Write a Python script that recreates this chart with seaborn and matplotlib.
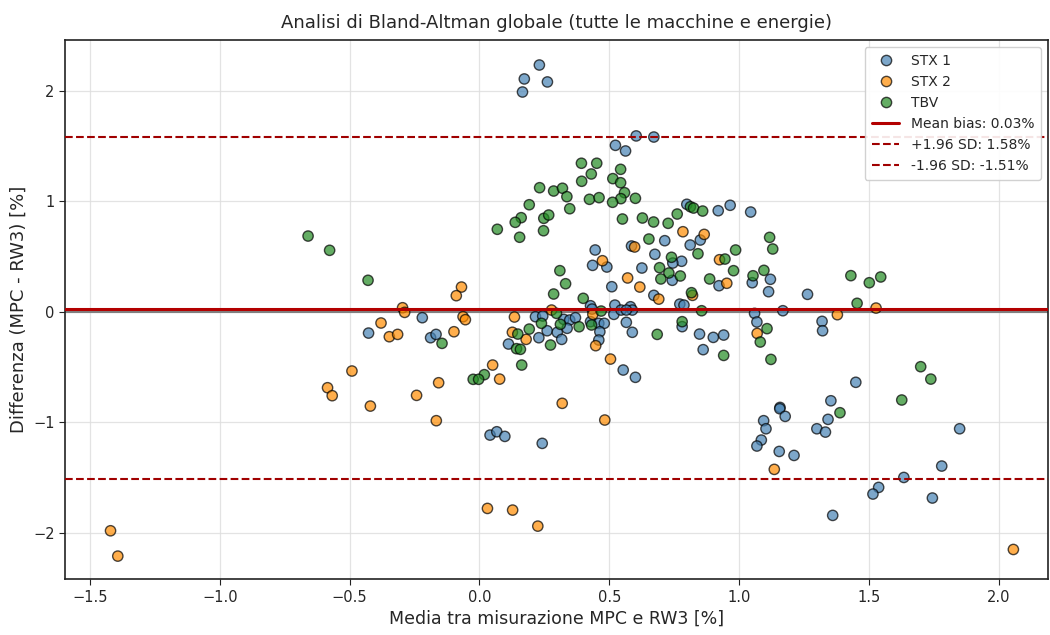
import numpy as np
import pandas as pd
import matplotlib
matplotlib.use("Agg")
import matplotlib.pyplot as plt
import seaborn as sns

# ---- data ----
stx1_x = [0.231, 0.173, 0.262, 0.166, 0.524, 0.563, 0.604, 0.672,
          -0.220, -0.427, -0.188, -0.167, 0.041, 0.067, 0.098, 0.242, 0.554, 0.601,
          0.446, 0.586, 0.436, 0.491, 0.626, 0.510,
          0.799, 0.920, 0.966, 1.045, 0.851, 0.714, 0.812, 0.676, 0.779, 0.745, 1.051, 1.121, 1.114, 0.743, 0.923, 0.672,
          0.582, 0.589, 0.772, 0.788, 0.589, 0.781, 0.848, 0.901, 0.941, 0.862, 1.060, 1.069, 1.169, 1.158,
          1.264, 1.320, 1.322, 1.450, 1.354,
          1.343, 1.300, 1.333, 1.157, 1.178, 1.095, 1.104, 1.086, 1.069, 1.155, 1.212, 1.850, 1.781, 1.635, 1.538, 1.516, 1.745, 1.361,
          0.216, 0.244, 0.325, 0.348, 0.370, 0.428, 0.434, 0.522, 0.518, 0.546, 0.566, 0.428, 0.460, 0.481, 0.566, 0.464, 0.460,
          0.261, 0.300, 0.338, 0.229, 0.317, 0.112]
stx1_y = [2.231, 2.105, 2.078, 1.987, 1.505, 1.454, 1.590, 1.580,
          -0.053, -0.192, -0.234, -0.204, -1.114, -1.084, -1.126, -1.189, -0.526, -0.592,
          0.559, 0.595, 0.420, 0.405, 0.396, 0.227,
          0.972, 0.914, 0.963, 0.902, 0.649, 0.643, 0.604, 0.520, 0.457, 0.441, 0.263, 0.294, 0.182, 0.285, 0.236, 0.149,
          0.046, 0.016, 0.070, 0.061, -0.185, -0.134, -0.201, -0.231, -0.210, -0.342, -0.014, -0.092, 0.010, -0.864,
          0.158, -0.086, -0.171, -0.637, -0.804,
          -0.972, -1.057, -1.087, -0.876, -0.945, -0.984, -1.057, -1.159, -1.213, -1.262, -1.298, -1.057, -1.394, -1.497, -1.587, -1.647, -1.683, -1.840,
          -0.044, -0.038, -0.068, -0.074, -0.053, 0.055, 0.025, 0.061, -0.023, 0.016, 0.016, -0.089, -0.104, -0.104, -0.095, -0.180, -0.255,
          -0.171, -0.185, -0.149, -0.234, -0.249, -0.291]

stx2_x = [-0.585, -0.567, -1.421, -1.393,
          -0.069, -0.089, -0.296, -0.288, -0.063, -0.054, -0.379, -0.347, -0.315, -0.098, -0.491, 0.051, -0.157, -0.242, -0.166, -0.420,
          0.078, 0.319, 0.483, 0.031, 0.128, 0.225,
          0.598, 0.474, 0.571, 0.618,
          0.784, 0.866, 0.925, 0.953, 0.691, 0.821,
          1.070, 1.379, 1.528, 1.136, 2.057,
          0.135, 0.278, 0.437, 0.448, 0.127, 0.180, 0.505]
stx2_y = [-0.686, -0.758, -1.979, -2.208,
          0.224, 0.146, 0.037, -0.005, -0.044, -0.071, -0.101, -0.225, -0.204, -0.180, -0.535, -0.481, -0.641, -0.755, -0.984, -0.852,
          -0.608, -0.827, -0.978, -1.777, -1.792, -1.937,
          0.586, 0.462, 0.306, 0.224,
          0.724, 0.700, 0.471, 0.258, 0.115, 0.149,
          -0.195, -0.026, 0.034, -1.424, -2.148,
          -0.047, 0.016, -0.023, -0.306, -0.185, -0.249, -0.427]

tbv_x = [-0.660, -0.577, -0.429, 0.069, -0.144, 0.019, -0.024, -0.003,
         0.393, 0.452, 0.431, 0.544, 0.394, 0.514, 0.544, 0.232, 0.286, 0.320, 0.337, 0.424, 0.461, 0.559, 0.545, 0.601,
         0.513, 0.192, 0.348, 0.161, 0.138, 0.248, 0.267, 0.155, 0.247, 0.551, 0.628, 0.653,
         0.310, 0.332, 0.286, 0.400,
         0.813, 0.825, 0.860, 0.762, 0.671, 0.727, 1.118, 1.130, 0.842, 0.987, 0.740, 0.946, 0.694, 0.730, 0.774, 0.979,
         1.096, 1.054, 0.699, 0.887, 0.817,
         0.856, 0.685, 0.781, 0.941, 1.108, 1.082, 1.123,
         1.431, 1.502, 1.546, 1.455, 1.700, 1.627, 1.739, 1.389,
         0.297, 0.469, 0.239, 0.312, 0.384, 0.432, 0.274, 0.192, 0.148, 0.143, 0.158, 0.163]
tbv_y = [0.685, 0.556, 0.285, 0.746, -0.285, -0.568, -0.610, -0.610,
         1.343, 1.343, 1.246, 1.288, 1.180, 1.204, 1.167, 1.122, 1.092, 1.117, 1.041, 1.017, 1.032, 1.077, 1.023, 1.026,
         0.990, 0.968, 0.932, 0.851, 0.809, 0.845, 0.875, 0.674, 0.733, 0.839, 0.848, 0.658,
         0.372, 0.254, 0.161, 0.122,
         0.950, 0.938, 0.911, 0.884, 0.812, 0.800, 0.673, 0.568, 0.525, 0.559, 0.493, 0.477, 0.399, 0.351, 0.324, 0.372,
         0.375, 0.326, 0.297, 0.297, 0.173,
         0.010, -0.204, -0.089, -0.394, -0.152, -0.273, -0.430,
         0.327, 0.263, 0.315, 0.077, -0.496, -0.797, -0.608, -0.912,
         -0.014, 0.007, -0.104, -0.113, -0.135, -0.119, -0.300, -0.156, -0.201, -0.333, -0.339, -0.481]

series_names = ["STX 1", "STX 2", "TBV"]
mean_bias = 0.03
upper_loa = 1.58
lower_loa = -1.51

x_ticks = [-1.5, -1.0, -0.5, 0.0, 0.5, 1.0, 1.5, 2.0]
y_ticks = [-2, -1, 0, 1, 2]

df = pd.DataFrame({
    "x": stx1_x + stx2_x + tbv_x,
    "y": stx1_y + stx2_y + tbv_y,
    "Macchina": [series_names[0]] * len(stx1_x) + [series_names[1]] * len(stx2_x) + [series_names[2]] * len(tbv_x),
})

sns.set_style("white")
plt.rcParams["font.family"] = ["DejaVu Sans"]
plt.rcParams["axes.unicode_minus"] = True

fig = plt.figure(figsize=(10.5, 6.35), dpi=100)
ax = fig.add_axes([0.062, 0.088, 0.936, 0.849])

palette = {"STX 1": "steelblue", "STX 2": "darkorange", "TBV": "forestgreen"}
sns.scatterplot(data=df, x="x", y="y", hue="Macchina", hue_order=series_names,
                palette=palette, s=55, alpha=0.7, edgecolor="black", linewidth=1.0,
                ax=ax, zorder=3)

ax.axhline(0, color="gray", lw=1.5, zorder=2)
ax.axhline(mean_bias, color="#b30000", lw=2.2, zorder=4, label=f"Mean bias: {mean_bias:.2f}%")
ax.axhline(upper_loa, color="#a00000", lw=1.5, ls="--", zorder=4, label=f"+1.96 SD: {upper_loa:.2f}%")
ax.axhline(lower_loa, color="#a00000", lw=1.5, ls="--", zorder=4, label=f"-1.96 SD: {lower_loa:.2f}%")

ax.set_xlim(-1.596, 2.19)
ax.set_ylim(-2.416, 2.457)
ax.set_xticks(x_ticks)
ax.set_yticks(y_ticks)
ax.grid(True, color="#dddddd", lw=0.9, alpha=0.8, zorder=0)
ax.set_axisbelow(True)
for sp in ax.spines.values():
    sp.set_color("#222222")
    sp.set_linewidth(1.2)
ax.tick_params(axis="both", labelsize=10.5, length=4, color="#222222", direction="out", bottom=True, left=True)

ax.set_xlabel("Media tra misurazione MPC e RW3 [%]", fontsize=12.5)
ax.set_ylabel("Differenza (MPC - RW3) [%]", fontsize=13)
ax.set_title("Analisi di Bland-Altman globale (tutte le macchine e energie)", fontsize=13, pad=9)

handles, labels = ax.get_legend_handles_labels()
ax.legend(handles, labels, loc="upper right", fontsize=10, frameon=True, framealpha=0.9,
          edgecolor="#cccccc", borderpad=0.5, labelspacing=0.5, handlelength=2.0)

fig.savefig("out.png", dpi=100)
